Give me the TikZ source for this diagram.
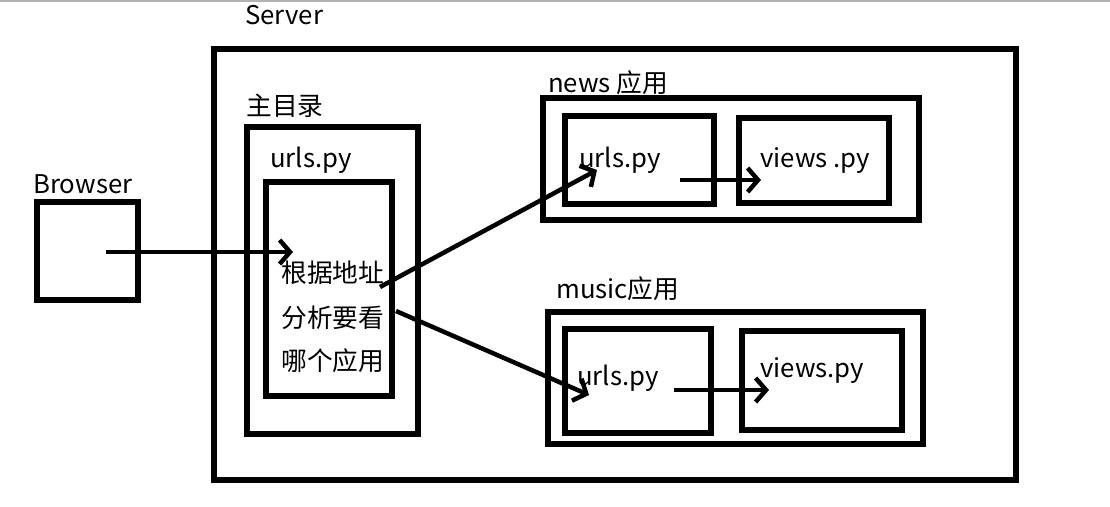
\documentclass[tikz,border=0pt]{standalone}
\usepackage{fontspec}
\setmainfont{Noto Sans CJK SC}
\usetikzlibrary{positioning,arrows.meta}
\tikzset{box/.style = {draw,line width=3.6pt,inner sep=0pt,outer sep=0pt},
         wh/.style 2 args = {minimum width=#1*0.25mm,minimum height=#2*0.25mm},
         lbl/.style = {inner sep=0pt,anchor=base west,font=\fontsize{18.3}{22}\selectfont},
         go/.style = {line width=3.2pt,-{Straight Barb[length=2.6mm,width=6mm]}}}

\begin{document}
\begin{tikzpicture}[x=0.25mm,y=-0.25mm]
    \useasboundingbox (0,0) rectangle (1110,506);
    \draw[gray!60,line width=0.8pt] (0,1) -- (1110,1);

    \node [box,wh={101}{98}]   (browser)    at (87.5,251)  {};
    \node [box,wh={802}{431}]  (server)     at (615,264.5) {};
    \node [box,wh={171}{307}]  (main)       at (332.5,280.5) {};
    \node [box,wh={126}{214}]  (mainurls)   at (329,289)   {};

    \node [box,wh={376}{122}]  (news)       at (731,159)   {};
    \node [box,wh={149}{88}]   (newsurls)   at (639.5,160) {};
    \node [box,wh={150}{85}]   (newsviews)  at (814,160.5) {};

    \node [box,wh={375}{132}]  (music)      at (735.5,378) {};
    \node [box,wh={146}{104}]  (musicurls)  at (638,381)   {};
    \node [box,wh={160}{99}]   (musicviews) at (822,380.5) {};

    \node [lbl] (browserlbl)  at (33,193)  {Browser};
    \node [lbl] (serverlbl)   at (245,24)  {Server};
    \node [lbl] (mainlbl)     at (246,115) {主目录};
    \node [lbl] (mainurlslbl) at (270,167) {urls.py};
    \node [lbl] (rulea)       at (281,282) {根据地址};
    \node [lbl] (ruleb)       at (281,327) {分析要看};
    \node [lbl] (rulec)       at (281,370) {哪个应用};

    \node [lbl] (newslbl)     at (548,92)  {news 应用};
    \node [lbl] (newsurlstxt) at (579,167) {urls.py};
    \node [lbl] (newsviewstxt) at (760,167) {views .py};

    \node [lbl] (musiclbl)    at (556,298) {music应用};
    \node [lbl] (musicurlstxt) at (577,385) {urls.py};
    \node [lbl] (musicviewstxt) at (760,377) {views.py};

    \coordinate (browserout) at (106,252);
    \coordinate (mainin)     at (293,252);
    \coordinate (newsout)    at (380,287);
    \coordinate (newsin)     at (597,170);
    \coordinate (musicout)   at (396,311);
    \coordinate (musicin)    at (589,395);
    \coordinate (newsa)      at (680,180);
    \coordinate (newsb)      at (761,180);
    \coordinate (musica)     at (674,390);
    \coordinate (musicb)     at (769,390);

    \draw [go] (browserout) -- (mainin);
    \draw [go] (newsout) -- (newsin);
    \draw [go] (musicout) -- (musicin);
    \draw [go] (newsa) -- (newsb);
    \draw [go] (musica) -- (musicb);
\end{tikzpicture}
\end{document}
